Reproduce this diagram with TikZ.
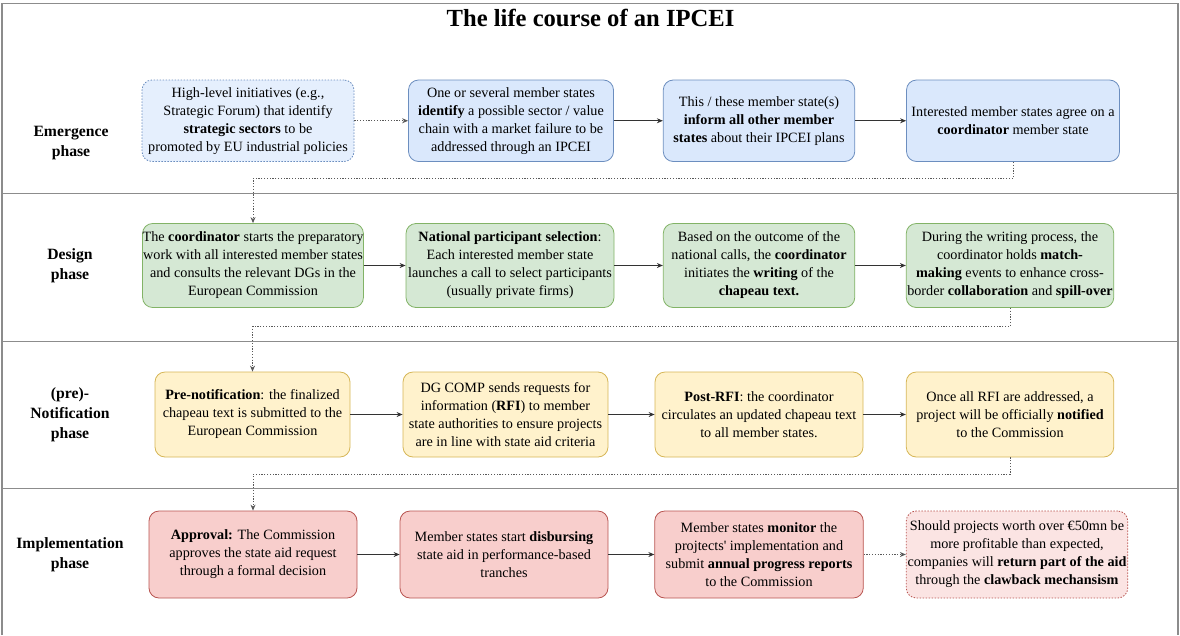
\documentclass[tikz,border=0pt]{standalone}
\usepackage{fontspec}
\setmainfont{Liberation Serif}
\usetikzlibrary{arrows.meta}

\definecolor{emergfill}{HTML}{DAE8FC}
\definecolor{emergline}{HTML}{6C8EBF}
\definecolor{designfill}{HTML}{D5E8D4}
\definecolor{designline}{HTML}{82B366}
\definecolor{notiffill}{HTML}{FFF2CC}
\definecolor{notifline}{HTML}{D6B656}
\definecolor{implfill}{HTML}{F8CECC}
\definecolor{implline}{HTML}{B85450}
\definecolor{framegray}{HTML}{8C8C8C}

\begin{document}
\begin{tikzpicture}
		[x=1pt,y=-1pt,>={Stealth[length=6pt,width=5pt]},
		box/.style={draw,rounded corners=10pt,align=center,inner sep=0pt,line width=0.8pt,font=\rmfamily\fontsize{14.2}{18}\selectfont},
		emergbox/.style={box,fill=emergfill,draw=emergline,minimum width=#1,minimum height=81.5pt},
		designbox/.style={box,fill=designfill,draw=designline,minimum width=#1,minimum height=84pt},
		notifbox/.style={box,fill=notiffill,draw=notifline,minimum width=#1,minimum height=85pt},
		implbox/.style={box,fill=implfill,draw=implline,minimum width=#1,minimum height=87pt},
		phase/.style={align=center,font=\rmfamily\fontsize{15.7}{20}\selectfont\bfseries},
		lane/.style={draw=framegray,line width=1.2pt},
		flow/.style={->,draw=black!80,line width=0.8pt},
		dotflow/.style={->,draw=black!65,line width=0.8pt,dash pattern=on 1.2pt off 1.6pt}]
		\useasboundingbox (0,0) rectangle (1180,635);

		% frame and lanes
		\draw[lane] (2,635) -- (2,3.5) -- (1178,3.5) -- (1178,635);
		\draw[lane] (2,193.5) -- (1178,193.5);
		\draw[lane] (2,341.5) -- (1178,341.5);
		\draw[lane] (2,488.5) -- (1178,488.5);

		\node[font=\rmfamily\fontsize{24.6}{28}\selectfont\bfseries] (title) at (590.5,18) {The life course of an IPCEI};

		\node[phase] (p1) at (71,143) {Emergence\\phase};
		\node[phase] (p2) at (70,266) {Design\\phase};
		\node[phase] (p3) at (70,415) {(pre)-\\Notification\\phase};
		\node[phase] (p4) at (70,555) {Implementation\\phase};

		% emergence
		\node[emergbox=212pt,fill=emergfill!70,dash pattern=on 1.5pt off 1.5pt] (a1) at (248,120.75) {High-level initiatives (e.g.,\\Strategic Forum) that identify\\\textbf{strategic sectors} to be\\promoted by EU industrial policies};
		\node[emergbox=205pt] (a2) at (511,120.75) {One or several member states\\\textbf{identify} a possible sector / value\\chain with a market failure to be\\addressed through an IPCEI};
		\node[emergbox=191.5pt] (a3) at (759,120.75) {This / these member state(s)\\\textbf{inform all other member}\\\textbf{states} about their IPCEI plans};
		\node[emergbox=213pt] (a4) at (1013,120.75) {Interested member states agree on a\\\textbf{coordinator} member state};

		% design
		\node[designbox=219pt] (b1) at (253,265.5) {The \textbf{coordinator} starts the preparatory\\work with all interested member states\\and consults the relevant DGs in the\\European Commission};
		\node[designbox=208pt] (b2) at (510,265.5) {\textbf{National participant selection}:\\Each interested member state\\launches a call to select participants\\(usually private firms)};
		\node[designbox=191.5pt] (b3) at (759,265.5) {Based on the outcome of the\\national calls, the \textbf{coordinator}\\initiates the \textbf{writing} of the\\\textbf{chapeau text.}};
		\node[designbox=207.5pt] (b4) at (1010,265.5) {During the writing process, the\\coordinator holds \textbf{match-}\\\textbf{making} events to enhance cross-\\border \textbf{collaboration} and \textbf{spill-over}};

		% (pre)-notification
		\node[notifbox=195pt] (c1) at (252.5,414.5) {\textbf{Pre-notification}: the finalized\\chapeau text is submitted to the\\European Commission};
		\node[notifbox=205pt] (c2) at (505.5,414.5) {DG COMP sends requests for\\information (\textbf{RFI}) to member\\state authorities to ensure projects\\are in line with state aid criteria};
		\node[notifbox=208pt] (c3) at (759,414.5) {\textbf{Post-RFI}: the coordinator\\circulates an updated chapeau text\\to all member states.};
		\node[notifbox=207.5pt] (c4) at (1010,414.5) {Once all RFI are addressed, a\\project will be officially \textbf{notified}\\to the Commission};

		% implementation
		\node[implbox=208pt] (d1) at (253,554.5) {\textbf{Approval:} The Commission\\approves the state aid request\\through a formal decision};
		\node[implbox=208pt] (d2) at (504,554.5) {Member states start \textbf{disbursing}\\state aid in performance-based\\tranches};
		\node[implbox=208.5pt] (d3) at (759,554.5) {Member states \textbf{monitor} the\\projtects\textquotesingle{} implementation and\\submit \textbf{annual progress reports}\\to the Commission};
		\node[implbox=221.5pt,fill=implfill!55,dash pattern=on 1.5pt off 1.5pt] (d4) at (1017,554.5) {Should projects worth over €50mn be\\more profitable than expected,\\companies will \textbf{return part of the aid}\\through the \textbf{clawback mechansism}};

		\draw[dotflow] (a1) -- (a2);
		\draw[flow] (a2) -- (a3);
		\draw[flow] (a3) -- (a4);
		\draw[dotflow] (a4.south) -- ++(0,16.5) -| (b1.north);

		\draw[flow] (b1) -- (b2);
		\draw[flow] (b2) -- (b3);
		\draw[flow] (b3) -- (b4);
		\draw[dotflow] (b4.south) -- ++(0,18.5) -| (c1.north);

		\draw[flow] (c1) -- (c2);
		\draw[flow] (c2) -- (c3);
		\draw[flow] (c3) -- (c4);
		\draw[dotflow] (c4.south) -- ++(0,17) -| (d1.north);

		\draw[flow] (d1) -- (d2);
		\draw[flow] (d2) -- (d3);
		\draw[dotflow] (d3) -- (d4);

	\end{tikzpicture}
\end{document}
